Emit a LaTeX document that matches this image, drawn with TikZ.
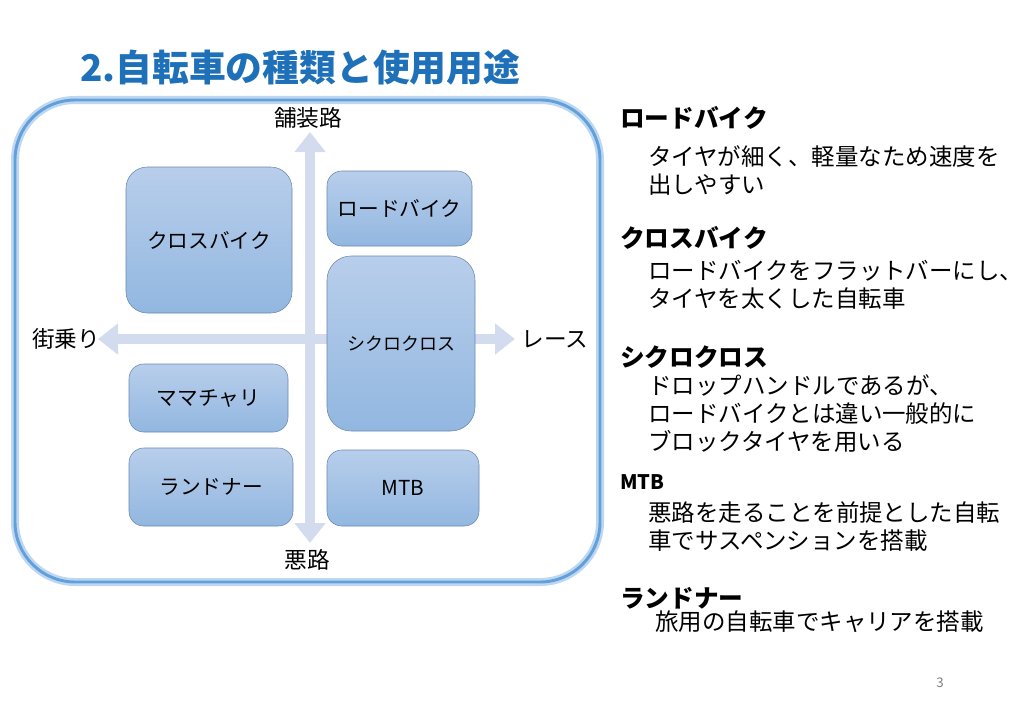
\documentclass[tikz,border=0pt]{standalone}
\usepackage{fontspec}
\setmainfont{Noto Sans CJK JP}
\usetikzlibrary{arrows.meta}
\definecolor{titleblue}{RGB}{30,112,184}
\definecolor{frameblue}{RGB}{98,160,220}
\definecolor{glowblue}{RGB}{190,215,240}
\definecolor{axisblue}{RGB}{210,220,238}
\definecolor{boxtop}{RGB}{184,206,235}
\definecolor{boxbottom}{RGB}{146,183,224}
\definecolor{boxline}{RGB}{105,135,175}
\tikzset{
  kind/.style={draw=boxline,thin,top color=boxtop,bottom color=boxbottom,
    rounded corners=11pt,inner sep=0,font=\fontsize{15.5}{18}\selectfont},
  axis/.style={axisblue,line width=7.5pt,
    {Triangle[width=22.5pt,length=15pt]}-{Triangle[width=22.5pt,length=15pt]}},
  axislabel/.style={font=\fontsize{17}{20}\selectfont},
  head/.style={anchor=west,inner sep=0,font=\fontsize{18.5}{22}\selectfont\bfseries},
  body/.style={anchor=north west,inner sep=0,align=left,font=\fontsize{17.6}{21}\selectfont}
}
\begin{document}
\begin{tikzpicture}[x=0.75pt,y=-0.75pt]
    \useasboundingbox (0,0) rectangle (1024,724);
    \node[anchor=west,inner sep=0,titleblue,font=\fontsize{27.6}{32}\selectfont\bfseries] (title) at (80,68) {2.自転車の種類と使用用途};
    % frame
    \draw[glowblue,line width=6pt,rounded corners=45pt] (15,100) rectangle (600,582);
    \draw[frameblue,line width=2.2pt,rounded corners=45pt] (15,100) rectangle (600,582);
    % axes
    \coordinate (up) at (310,132);
    \coordinate (down) at (310,543);
    \coordinate (left) at (98,339);
    \coordinate (right) at (515,339);
    \draw[axis] (down) -- (up);
    \draw[axis] (left) -- (right);
    \node[axislabel] (paved) at (308,118) {舗装路};
    \node[axislabel] (rough) at (307,560) {悪路};
    \node[axislabel] (town) at (66,339) {街乗り};
    \node[axislabel] (race) at (555,339) {レース};
    % kinds
    \node[kind,minimum width=124.5pt,minimum height=109.5pt,rounded corners=16pt] (cross) at (209,240) {クロスバイク};
    \node[kind,minimum width=108.75pt,minimum height=56.25pt] (road) at (399.5,208.5) {ロードバイク};
    \node[kind,minimum width=111pt,minimum height=131.25pt,rounded corners=18pt,font=\fontsize{13.5}{16}\selectfont] (cyclo) at (401,343.5) {シクロクロス};
    \node[kind,minimum width=119.25pt,minimum height=51pt] (mama) at (208.5,398) {ママチャリ};
    \node[kind,minimum width=123pt,minimum height=58.5pt] (rando) at (211,487) {ランドナー};
    \node[kind,minimum width=114pt,minimum height=57pt] (mtb) at (403,488) {MTB};
    % descriptions
    \node[head] (roadhead) at (620,118) {ロードバイク};
    \node[body] (roadtext) at (648,145.5) {タイヤが細く、軽量なため速度を\\出しやすい};
    \node[head] (crosshead) at (620,238) {クロスバイク};
    \node[body] (crosstext) at (648,260.5) {ロードバイクをフラットバーにし、\\タイヤを太くした自転車};
    \node[head] (cyclohead) at (620,357) {シクロクロス};
    \node[body] (cyclotext) at (648,374.5) {ドロップハンドルであるが、\\ロードバイクとは違い一般的に\\ブロックタイヤを用いる};
    \node[head,font=\fontsize{15}{18}\selectfont\bfseries] (mtbhead) at (620,482) {MTB};
    \node[body] (mtbtext) at (648,501.5) {悪路を走ることを前提とした自転\\車でサスペンションを搭載};
    \node[head] (randohead) at (620,598) {ランドナー};
    \node[body] (randotext) at (655,610.5) {旅用の自転車でキャリアを搭載};
    \node[gray,font=\fontsize{10}{12}\selectfont] (page) at (940,683) {3};
\end{tikzpicture}
\end{document}
